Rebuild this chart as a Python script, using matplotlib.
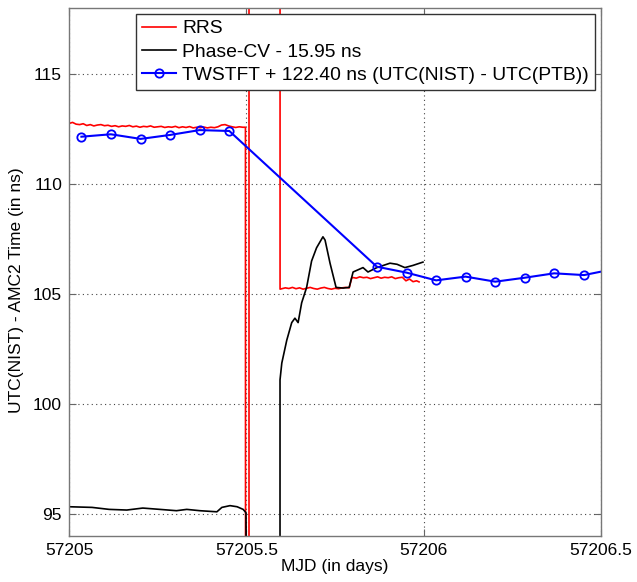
import matplotlib
matplotlib.use("Agg")
import matplotlib.pyplot as plt
import numpy as np

plt.rcParams['font.family'] = ['Liberation Sans', 'DejaVu Sans']
plt.rcParams['font.size'] = 12.5

# RRS (red) - before the step
rrs_t1 = 57205.0 + np.arange(50) * 0.01
rrs_v1 = [112.75, 112.80, 112.72, 112.70, 112.74, 112.66, 112.70, 112.64, 112.68, 112.70,
          112.65, 112.67, 112.62, 112.65, 112.60, 112.64, 112.62, 112.66, 112.60, 112.63,
          112.58, 112.62, 112.60, 112.64, 112.58, 112.60, 112.62, 112.57, 112.60, 112.58,
          112.62, 112.56, 112.60, 112.57, 112.61, 112.55, 112.58, 112.56, 112.59, 112.55,
          112.58, 112.56, 112.60, 112.68, 112.70, 112.64, 112.60, 112.57, 112.60, 112.58]
# RRS excursion off the chart and the later level
rrs_t2 = [57205.4975, 57205.4982, 57205.5075, 57205.5076, 57205.5950, 57205.5951,
          57205.61, 57205.62, 57205.63, 57205.64, 57205.65, 57205.66, 57205.67, 57205.68,
          57205.69, 57205.70, 57205.71, 57205.72, 57205.73, 57205.74, 57205.75, 57205.76,
          57205.77, 57205.78, 57205.79, 57205.797, 57205.80, 57205.81, 57205.82, 57205.83,
          57205.84, 57205.85, 57205.86, 57205.87, 57205.88, 57205.89, 57205.90, 57205.91,
          57205.92, 57205.93, 57205.94, 57205.95, 57205.96, 57205.97, 57205.98, 57205.987]
rrs_v2 = [112.58, 60.0, 60.0, 170.0, 170.0, 105.22,
          105.28, 105.25, 105.30, 105.24, 105.28, 105.22, 105.26, 105.30,
          105.25, 105.22, 105.27, 105.30, 105.25, 105.22, 105.26, 105.24,
          105.28, 105.30, 105.28, 105.72, 105.75, 105.72, 105.78, 105.74,
          105.76, 105.70, 105.74, 105.78, 105.72, 105.76, 105.74, 105.78,
          105.70, 105.74, 105.76, 105.60, 105.68, 105.56, 105.60, 105.55]

# Phase-CV - 15.95 ns (black)
cv_t = [57205.000, 57205.065, 57205.113, 57205.163, 57205.208, 57205.256, 57205.303,
        57205.332, 57205.369, 57205.417, 57205.431, 57205.454, 57205.474, 57205.491,
        57205.499, 57205.503, 57205.5949, 57205.595, 57205.600, 57205.614, 57205.628,
        57205.637, 57205.646, 57205.656, 57205.670, 57205.684, 57205.698, 57205.716,
        57205.722, 57205.736, 57205.753, 57205.773, 57205.790, 57205.801, 57205.815,
        57205.829, 57205.843, 57205.868, 57205.905, 57205.925, 57205.947, 57205.970,
        57205.998]
cv_v = [95.33, 95.30, 95.21, 95.18, 95.27, 95.21, 95.15,
        95.21, 95.15, 95.10, 95.30, 95.38, 95.33, 95.21,
        95.06, 80.0, 80.0, 101.10, 101.86, 102.90, 103.70,
        103.90, 103.70, 104.60, 105.30, 106.50, 107.10, 107.60,
        107.45, 106.40, 105.30, 105.27, 105.30, 106.00, 106.10,
        106.20, 106.00, 106.20, 106.40, 106.35, 106.20, 106.30,
        106.45]

# TWSTFT + 122.40 ns (blue)
tw_t = [57205.035, 57205.118, 57205.202, 57205.285, 57205.368, 57205.452,
        57205.868, 57205.952, 57206.035, 57206.118, 57206.202, 57206.285,
        57206.368, 57206.452, 57206.535]
tw_v = [112.15, 112.26, 112.05, 112.23, 112.45, 112.41,
        106.24, 105.97, 105.62, 105.79, 105.56, 105.74,
        105.94, 105.86, 106.13]

xticks = [57205, 57205.5, 57206, 57206.5]
xticklabels = ["57205", "57205.5", "57206", "57206.5"]
yticks = [95, 100, 105, 110, 115]

fig = plt.figure(figsize=(6.37, 5.82), dpi=100)
ax = fig.add_axes([69 / 637, 46 / 582, 532 / 637, 528 / 582])

ax.plot(np.concatenate([rrs_t1, rrs_t2]), np.concatenate([rrs_v1, rrs_v2]),
        color="red", lw=1.2, label="RRS")
ax.plot(cv_t, cv_v, color="black", lw=1.2, label="Phase-CV - 15.95 ns")
ax.plot(tw_t, tw_v, color="blue", lw=1.5, marker="o", markersize=6,
        markerfacecolor="none", markeredgewidth=1.3,
        label="TWSTFT + 122.40 ns (UTC(NIST) - UTC(PTB))")

ax.set_xlim(57205, 57206.5)
ax.set_ylim(94, 118)
ax.set_xticks(xticks)
ax.set_xticklabels(xticklabels)
ax.set_yticks(yticks)

ax.grid(True, color="#444444", linestyle=(0, (1, 3)), linewidth=0.8)
ax.tick_params(direction="in", length=5, top=True, right=True, color="#666666", pad=5)
for s in ax.spines.values():
    s.set_color("#777777")
    s.set_linewidth(1.0)

ax.set_xlabel("MJD (in days)", labelpad=1)
ax.set_ylabel("UTC(NIST) - AMC2 Time (in ns)", labelpad=4)
ax.yaxis.set_label_coords(-0.085, 0.466)

leg = ax.legend(loc="upper right", fancybox=False, framealpha=1, edgecolor="#333333",
                fontsize=13.9, borderaxespad=0.32, handlelength=1.8, handletextpad=0.3,
                labelspacing=0.3, borderpad=0.3)
leg.get_frame().set_linewidth(1.0)

fig.savefig("out.png", dpi=100)
